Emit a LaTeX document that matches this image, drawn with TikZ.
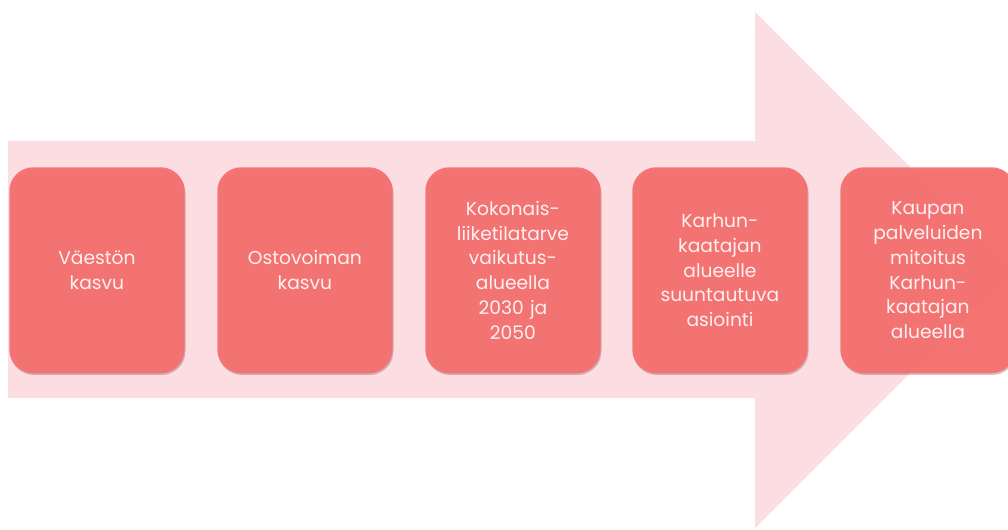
\documentclass[tikz,border=0pt]{standalone}
\usepackage{fontspec}
\setmainfont{Poppins}
\definecolor{arrowpink}{HTML}{FCDDE2}
\definecolor{boxred}{HTML}{F66F6F}
\definecolor{boxtext}{HTML}{FFF0F0}
\begin{document}
\begin{tikzpicture}[x=0.75pt,y=-0.75pt,
  stage/.style={draw=none, fill=boxred, fill opacity=0.93, text opacity=1, rounded corners=18pt,
    minimum width=131.5pt, minimum height=154.5pt, anchor=north west, inner sep=0pt,
    text width=128pt, align=center, text=boxtext,
    font=\fontsize{14pt}{18.6pt}\selectfont},
  shade/.style={fill=black!50!boxred, fill opacity=0.3, rounded corners=18pt}]
\useasboundingbox (0,0) rectangle (1008,530);
\clip (0,0) rectangle (1008,530);
% big arrow
\fill[arrowpink] (8,141) -- (755,141) -- (755,12) -- (1013,270) -- (755,528) -- (755,398) -- (8,398) -- cycle;
% shadows
\foreach \x in {9,217,425,632,840} {
  \fill[shade] (\x+1,169) rectangle ++(175.5,206);
}
\node[stage] (s1) at (9,167) {Väestön\\kasvu};
\node[stage] (s2) at (217,167) {Ostovoiman\\kasvu};
\node[stage] (s3) at (425,167) {Kokonais-\\liiketilatarve\\vaikutus-\\alueella\\2030 ja\\2050};
\node[stage] (s4) at (632,167) {Karhun-\\kaatajan\\alueelle\\suuntautuva\\asiointi};
\node[stage] (s5) at (840,167) {Kaupan\\palveluiden\\mitoitus\\Karhun-\\kaatajan\\alueella};
\end{tikzpicture}
\end{document}
